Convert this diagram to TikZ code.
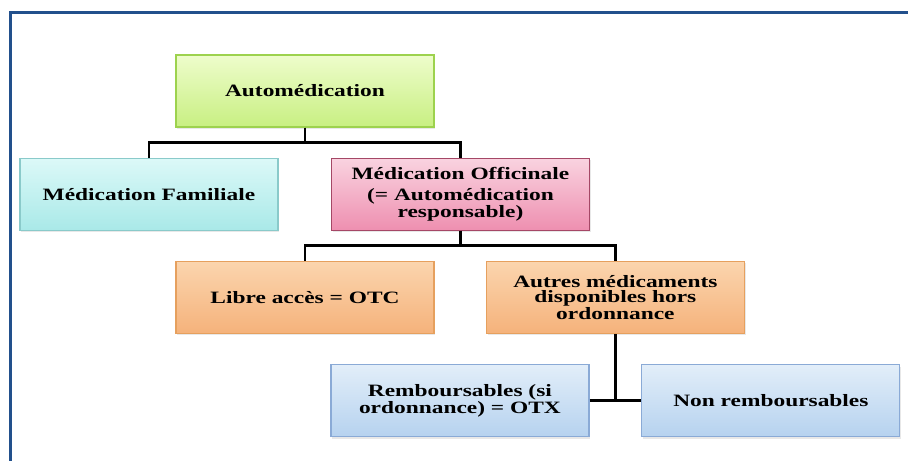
\documentclass[tikz,border=0pt]{standalone}
\usepackage{fontspec}
\setmainfont{Liberation Serif}[FakeStretch=1.35]
\usetikzlibrary{positioning, calc, shadows}

\definecolor{frameblue}{HTML}{22508C}
\definecolor{greenTop}{HTML}{EEFDCB}
\definecolor{greenBot}{HTML}{C8EF82}
\definecolor{greenLine}{HTML}{9DD24E}
\definecolor{cyanTop}{HTML}{DCF9F8}
\definecolor{cyanBot}{HTML}{A9E9E8}
\definecolor{cyanLine}{HTML}{8ACACA}
\definecolor{pinkTop}{HTML}{F9D3E0}
\definecolor{pinkBot}{HTML}{EE8FB0}
\definecolor{pinkLine}{HTML}{A54766}
\definecolor{orangeTop}{HTML}{FBD5AE}
\definecolor{orangeBot}{HTML}{F5B27B}
\definecolor{orangeLine}{HTML}{E6A05E}
\definecolor{blueTop}{HTML}{E2EEF9}
\definecolor{blueBot}{HTML}{B6D2EF}
\definecolor{blueLine}{HTML}{8AAAD6}

\begin{document}
\begin{tikzpicture}[
        node distance=22.5pt,
        box/.style={draw, rectangle, minimum width=193.5pt, minimum height=54pt, align=center, line width=0.9pt,
            font=\bfseries\fontsize{13pt}{11.5pt}\selectfont,
            drop shadow={opacity=0.18, shadow xshift=1pt, shadow yshift=-1.5pt}},
        greenbox/.style={box, draw=greenLine, top color=greenTop, bottom color=greenBot},
        cyanbox/.style={box, draw=cyanLine, top color=cyanTop, bottom color=cyanBot},
        pinkbox/.style={box, draw=pinkLine, top color=pinkTop, bottom color=pinkBot},
        orangebox/.style={box, draw=orangeLine, top color=orangeTop, bottom color=orangeBot},
        bluebox/.style={box, draw=blueLine, top color=blueTop, bottom color=blueBot},
        conn/.style={line width=2.2pt, black},
        frame/.style={line width=2.25pt, frameblue}
    ]

    \useasboundingbox (0,0) rectangle (681pt,-345.75pt);
    \draw[frame] (7.5pt,-345.75pt) -- (7.5pt,-9pt) -- (681pt,-9pt);

    \node[greenbox] (Auto) at (228.75pt,-68.25pt) {Automédication};

    \node[cyanbox, below=of Auto, xshift=-117pt] (Familiale) {Médication Familiale};
    \node[pinkbox, below=of Auto, xshift=116.6pt] (Officinale) {Médication Officinale\\[4pt](= Automédication\\responsable)};

    \node[orangebox, below=of Officinale, xshift=-116.6pt] (Libre) {Libre accès = OTC};
    \node[orangebox, below=of Officinale, xshift=116.2pt] (Autres) {Autres médicaments\\disponibles hors\\ordonnance};

    \node[bluebox, below=of Autres, xshift=-116.6pt] (Remb) {Remboursables (si\\ordonnance) = OTX};
    \node[bluebox, below=of Autres, xshift=116.6pt] (NonRemb) {Non remboursables};

    \draw[conn] (Auto.south) -- ++(0,-11.25pt) -| (Familiale.north);
    \draw[conn] (Auto.south) -- ++(0,-11.25pt) -| (Officinale.north);
    \draw[conn] (Officinale.south) -- ++(0,-11.25pt) -| (Libre.north);
    \draw[conn] (Officinale.south) -- ++(0,-11.25pt) -| (Autres.north);
    \draw[conn] (Autres.south) -- (Autres.south |- Remb.east);
    \draw[conn] (Remb.east) -- (NonRemb.west);

\end{tikzpicture}
\end{document}
